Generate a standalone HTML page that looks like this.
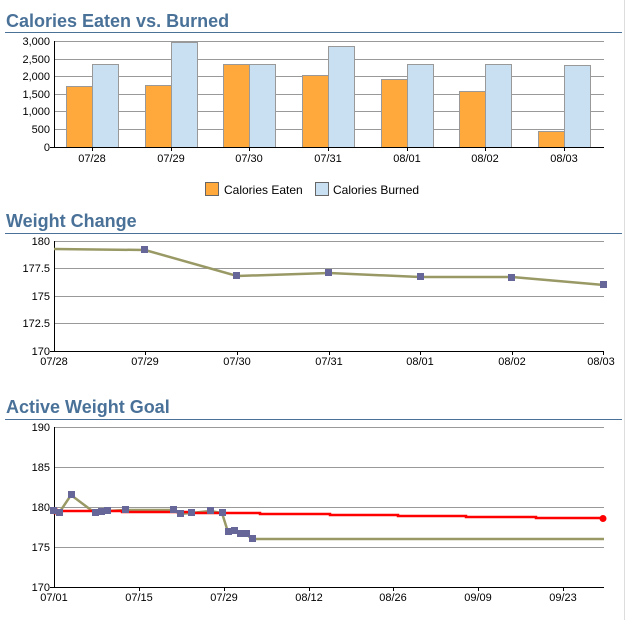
<!DOCTYPE html>
<html><head><meta charset="utf-8"><style>
body{margin:0;background:#fff;width:626px;height:620px;overflow:hidden}
svg{display:block;font-family:"Liberation Sans",sans-serif}
.t{font-size:18px;font-weight:bold;fill:#4a7299}
.l{font-size:11px;fill:#000}
.g{stroke:#999;stroke-width:1}
</style></head><body>
<svg width="626" height="620" viewBox="0 0 626 620">
<line x1="624.5" y1="0" x2="624.5" y2="620" stroke="#ddd"/>
<!-- Chart 1 -->
<text x="6" y="27" class="t">Calories Eaten vs. Burned</text>
<line x1="5" y1="32.5" x2="622" y2="32.5" stroke="#4a7299"/>
<g class="g">
<line x1="54" y1="41.5" x2="604" y2="41.5"/><line x1="54" y1="59.5" x2="604" y2="59.5"/>
<line x1="54" y1="76.5" x2="604" y2="76.5"/><line x1="54" y1="94.5" x2="604" y2="94.5"/>
<line x1="54" y1="111.5" x2="604" y2="111.5"/><line x1="54" y1="129.5" x2="604" y2="129.5"/>
</g>
<g text-anchor="end" class="l">
<text x="50" y="45">3,000</text><text x="50" y="63">2,500</text><text x="50" y="80">2,000</text>
<text x="50" y="98">1,500</text><text x="50" y="115">1,000</text><text x="50" y="133">500</text><text x="50" y="151">0</text>
</g>
<g stroke="#999" stroke-width="1">
<rect x="66.5" y="86.5" width="26" height="61" fill="#ffa83c"/><rect x="92.5" y="64.5" width="26" height="83" fill="#c9e0f3"/>
<rect x="145.5" y="85.5" width="26" height="62" fill="#ffa83c"/><rect x="171.5" y="42.5" width="26" height="105" fill="#c9e0f3"/>
<rect x="223.5" y="64.5" width="26" height="83" fill="#ffa83c"/><rect x="249.5" y="64.5" width="26" height="83" fill="#c9e0f3"/>
<rect x="302.5" y="75.5" width="26" height="72" fill="#ffa83c"/><rect x="328.5" y="46.5" width="26" height="101" fill="#c9e0f3"/>
<rect x="381.5" y="79.5" width="26" height="68" fill="#ffa83c"/><rect x="407.5" y="64.5" width="26" height="83" fill="#c9e0f3"/>
<rect x="459.5" y="91.5" width="26" height="56" fill="#ffa83c"/><rect x="485.5" y="64.5" width="26" height="83" fill="#c9e0f3"/>
<rect x="538.5" y="131.5" width="26" height="16" fill="#ffa83c"/><rect x="564.5" y="65.5" width="26" height="82" fill="#c9e0f3"/>
</g>
<line x1="54.5" y1="41" x2="54.5" y2="148" stroke="#000"/>
<line x1="50" y1="147.5" x2="604" y2="147.5" stroke="#000"/>
<g stroke="#000"><line x1="92.5" y1="147" x2="92.5" y2="151"/><line x1="171.5" y1="147" x2="171.5" y2="151"/><line x1="249.5" y1="147" x2="249.5" y2="151"/><line x1="328.5" y1="147" x2="328.5" y2="151"/><line x1="407.5" y1="147" x2="407.5" y2="151"/><line x1="485.5" y1="147" x2="485.5" y2="151"/><line x1="564.5" y1="147" x2="564.5" y2="151"/></g>
<g text-anchor="middle" class="l">
<text x="92" y="162">07/28</text><text x="171" y="162">07/29</text><text x="249" y="162">07/30</text><text x="328" y="162">07/31</text><text x="407" y="162">08/01</text><text x="485" y="162">08/02</text><text x="564" y="162">08/03</text>
</g>
<rect x="205.5" y="182.5" width="13" height="13" fill="#ffa83c" stroke="#666"/>
<text x="224" y="194" style="font-size:12px">Calories Eaten</text>
<rect x="315.5" y="182.5" width="13" height="13" fill="#c9e0f3" stroke="#666"/>
<text x="333" y="194" style="font-size:12px">Calories Burned</text>
<!-- Chart 2 -->
<text x="6" y="227" class="t">Weight Change</text>
<line x1="5" y1="233.5" x2="622" y2="233.5" stroke="#4a7299"/>
<g class="g">
<line x1="54" y1="241.5" x2="604" y2="241.5"/><line x1="54" y1="268.5" x2="604" y2="268.5"/>
<line x1="54" y1="296.5" x2="604" y2="296.5"/><line x1="54" y1="323.5" x2="604" y2="323.5"/>
</g>
<g text-anchor="end" class="l">
<text x="50" y="245">180</text><text x="50" y="272">177.5</text><text x="50" y="300">175</text><text x="50" y="327">172.5</text><text x="50" y="355">170</text>
</g>
<line x1="54.5" y1="241" x2="54.5" y2="352" stroke="#000"/>
<line x1="50" y1="351.5" x2="604" y2="351.5" stroke="#000"/>
<polyline fill="none" stroke="#999966" stroke-width="2.5" points="54,249 145,250 237,276 329,273 420,277 512,277 604,285"/>
<g fill="#666699"><rect x="141" y="246" width="7" height="7"/><rect x="233" y="272" width="7" height="7"/><rect x="325" y="269" width="7" height="7"/><rect x="417" y="273" width="7" height="7"/><rect x="508" y="274" width="7" height="7"/><rect x="600" y="281" width="7" height="7"/></g>
<g stroke="#000"><line x1="145.5" y1="351" x2="145.5" y2="355"/><line x1="237.5" y1="351" x2="237.5" y2="355"/><line x1="329.5" y1="351" x2="329.5" y2="355"/><line x1="420.5" y1="351" x2="420.5" y2="355"/><line x1="512.5" y1="351" x2="512.5" y2="355"/><line x1="603.5" y1="351" x2="603.5" y2="355"/></g>
<g text-anchor="middle" class="l">
<text x="54" y="365">07/28</text><text x="145" y="365">07/29</text><text x="237" y="365">07/30</text><text x="329" y="365">07/31</text><text x="420" y="365">08/01</text><text x="512" y="365">08/02</text><text x="601" y="365">08/03</text>
</g>
<!-- Chart 3 -->
<text x="6" y="413" class="t">Active Weight Goal</text>
<line x1="5" y1="419.5" x2="622" y2="419.5" stroke="#4a7299"/>
<g class="g">
<line x1="54" y1="427.5" x2="604" y2="427.5"/><line x1="54" y1="467.5" x2="604" y2="467.5"/>
<line x1="54" y1="507.5" x2="604" y2="507.5"/><line x1="54" y1="547.5" x2="604" y2="547.5"/>
</g>
<g text-anchor="end" class="l">
<text x="50" y="431">190</text><text x="50" y="471">185</text><text x="50" y="511">180</text><text x="50" y="551">175</text><text x="50" y="591">170</text>
</g>
<line x1="54.5" y1="427" x2="54.5" y2="588" stroke="#000"/>
<line x1="50" y1="587.5" x2="604" y2="587.5" stroke="#000"/>
<polyline fill="none" stroke="#999966" stroke-width="2.5" points="53,511 59,513 71,495 95,513 101,512 107,511 125,510 173,510 180,514 191,513 210,511 222,513 228,532 234,531 240,534 246,534 252,539 604,539"/>
<polyline fill="none" stroke="#ff0000" stroke-width="2.5" points="54,511 122,511 122,512 191,512 191,513 260,513 260,514 330,514 330,515 398,515 398,516 466,516 466,517 536,517 536,518 604,518"/>
<circle cx="55" cy="511" r="3.5" fill="#ff0000"/><circle cx="603" cy="518.5" r="3.5" fill="#ff0000"/>
<g fill="#666699">
<rect x="50" y="507" width="7" height="7"/><rect x="56" y="509" width="7" height="7"/><rect x="68" y="491" width="7" height="7"/><rect x="92" y="509" width="7" height="7"/><rect x="98" y="508" width="7" height="7"/><rect x="104" y="507" width="7" height="7"/><rect x="122" y="506" width="7" height="7"/><rect x="170" y="506" width="7" height="7"/><rect x="177" y="510" width="7" height="7"/><rect x="188" y="509" width="7" height="7"/><rect x="207" y="507" width="7" height="7"/><rect x="219" y="509" width="7" height="7"/><rect x="225" y="528" width="7" height="7"/><rect x="231" y="527" width="7" height="7"/><rect x="237" y="530" width="7" height="7"/><rect x="243" y="530" width="7" height="7"/><rect x="249" y="535" width="7" height="7"/>
</g>
<g stroke="#000"><line x1="139.5" y1="587" x2="139.5" y2="591"/><line x1="224.5" y1="587" x2="224.5" y2="591"/><line x1="309.5" y1="587" x2="309.5" y2="591"/><line x1="393.5" y1="587" x2="393.5" y2="591"/><line x1="478.5" y1="587" x2="478.5" y2="591"/><line x1="563.5" y1="587" x2="563.5" y2="591"/></g>
<g text-anchor="middle" class="l">
<text x="54" y="601">07/01</text><text x="139" y="601">07/15</text><text x="224" y="601">07/29</text><text x="309" y="601">08/12</text><text x="393" y="601">08/26</text><text x="478" y="601">09/09</text><text x="563" y="601">09/23</text>
</g>
</svg>
</body></html>
